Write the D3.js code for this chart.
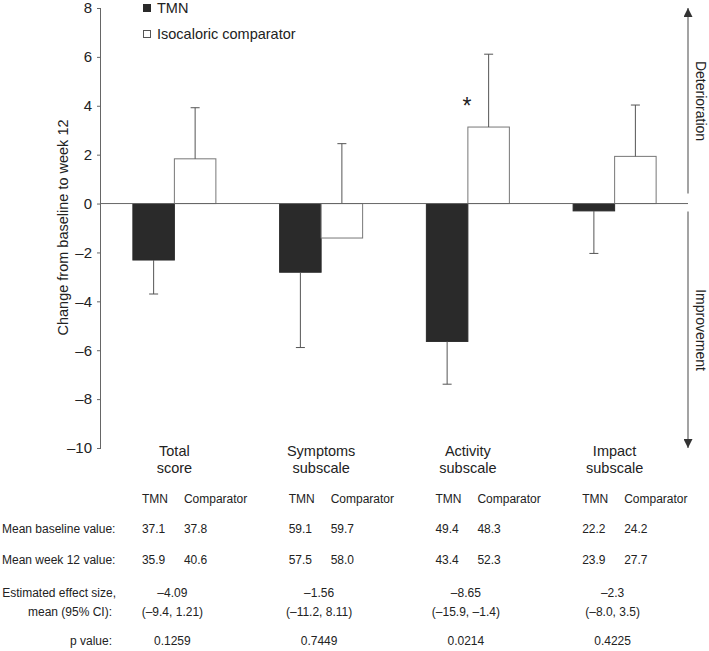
<!DOCTYPE html>
<html>
<head>
<meta charset="utf-8">
<script src="https://cdn.jsdelivr.net/npm/d3@7"></script>
<style>
  html, body { margin: 0; padding: 0; background: #fff; }
  svg { display: block; font-family: "Liberation Sans", Arial, Helvetica, sans-serif; }
</style>
</head>
<body>
<svg id="chart" width="709" height="651"></svg>
<script>
// ---- data ----
const categories = ["Total score", "Symptoms subscale", "Activity subscale", "Impact subscale"];
const catLine1 = ["Total", "Symptoms", "Activity", "Impact"];
const catLine2 = ["score", "subscale", "subscale", "subscale"];
const series = ["TMN", "Isocaloric comparator"];
const tmnValues = [-2.31, -2.81, -5.64, -0.30];
const tmnErrorEnd = [-3.70, -5.89, -7.39, -2.04];
const compValues = [1.83, -1.41, 3.13, 1.93];
const compErrorEnd = [3.92, 2.45, 6.11, 4.03];
const yTicks = [8, 6, 4, 2, 0, -2, -4, -6, -8, -10];
const significant = [false, false, true, false];

const tableHeaders = ["TMN", "Comparator"];
const rowLabels = ["Mean baseline value:", "Mean week 12 value:"];
const baselineTMN = ["37.1", "59.1", "49.4", "22.2"];
const baselineComp = ["37.8", "59.7", "48.3", "24.2"];
const week12TMN = ["35.9", "57.5", "43.4", "23.9"];
const week12Comp = ["40.6", "58.0", "52.3", "27.7"];
const effectMean = ["\u20134.09", "\u20131.56", "\u20138.65", "\u20132.3"];
const effectCI = ["(\u20139.4, 1.21)", "(\u201311.2, 8.11)", "(\u201315.9, \u20131.4)", "(\u20138.0, 3.5)"];
const pValues = ["0.1259", "0.7449", "0.0214", "0.4225"];

// ---- layout ----
const svg = d3.select("#chart");
const axisX = 101, rightX = 688;
const textCol = "#222";
const lineCol = "#666";

const y = d3.scaleLinear().domain([-10, 8]).range([448, 8]);
const x0 = d3.scaleBand().domain(categories).range([axisX, rightX]).padding(0);
const center = c => x0(c) + x0.bandwidth() / 2;
const x1 = d3.scaleBand().domain(series).range([-41.5, 41.5]).padding(0);

// y axis
const yAxis = d3.axisLeft(y).tickValues(yTicks).tickSize(4).tickPadding(5)
  .tickFormat(d => d < 0 ? "\u2013" + Math.abs(d) : String(d));
const gy = svg.append("g").attr("transform", `translate(${axisX},0)`).call(yAxis);
gy.select(".domain").attr("stroke", lineCol).attr("d", `M-0.5,${y(8)}V${y(-10)}`);
gy.selectAll(".tick line").attr("stroke", lineCol);
gy.selectAll(".tick text").attr("fill", textCol).style("font-size", "15px").style("font-family", "'Liberation Sans', Arial, sans-serif");

// y axis title
svg.append("text")
  .attr("transform", `translate(68,${(118 + 337) / 2}) rotate(-90)`)
  .attr("text-anchor", "middle").attr("fill", textCol).style("font-size", "14.5px")
  .text("Change from baseline to week 12");

// data rows
const rows = categories.map((c, i) => ({
  cat: c,
  bars: [
    { s: series[0], v: tmnValues[i], e: tmnErrorEnd[i] },
    { s: series[1], v: compValues[i], e: compErrorEnd[i] }
  ]
}));

const groups = svg.append("g").selectAll("g").data(rows).join("g")
  .attr("transform", d => `translate(${center(d.cat)},0)`);

groups.selectAll("rect").data(d => d.bars).join("rect")
  .attr("x", d => x1(d.s))
  .attr("width", x1.bandwidth())
  .attr("y", d => y(Math.max(0, d.v)))
  .attr("height", d => Math.abs(y(d.v) - y(0)))
  .attr("fill", d => d.s === series[0] ? "#2a2a2a" : "#fff")
  .attr("stroke", d => d.s === series[0] ? "#2a2a2a" : "#777")
  .attr("stroke-width", 1);

// error bars
const errStart = d => (Math.sign(d.e - d.v) === Math.sign(d.v) || d.v === 0) ? d.v : 0;
groups.selectAll("path.err").data(d => d.bars).join("path").attr("class", "err")
  .attr("fill", "none").attr("stroke", "#555").attr("stroke-width", 1)
  .attr("d", d => {
    const cx = x1(d.s) + x1.bandwidth() / 2;
    return `M${cx},${y(errStart(d))}V${y(d.e)}M${cx - 4.5},${y(d.e)}H${cx + 4.5}`;
  });

// zero line
svg.append("line").attr("x1", axisX).attr("x2", rightX).attr("y1", y(0)).attr("y2", y(0))
  .attr("stroke", lineCol).attr("stroke-width", 1);

// significance star
svg.selectAll("text.star").data(rows.filter((d, i) => significant[i])).join("text")
  .attr("class", "star").attr("x", d => center(d.cat) - 1).attr("y", 114)
  .attr("text-anchor", "middle").attr("fill", textCol).style("font-size", "23px")
  .text("*");

// legend
const legend = svg.append("g");
const legY = [13, 39];
series.forEach((s, i) => {
  legend.append("rect").attr("x", 143.5).attr("y", legY[i] - 8.5).attr("width", 7).attr("height", 7)
    .attr("fill", i === 0 ? "#2a2a2a" : "#fff").attr("stroke", i === 0 ? "#2a2a2a" : "#555");
  legend.append("text").attr("x", 157).attr("y", legY[i]).attr("fill", textCol)
    .style("font-size", "14.5px").text(s);
});

// direction arrows
const ax = rightX;
svg.append("defs").append("marker").attr("id", "ah").attr("viewBox", "0 0 10 10")
  .attr("refX", 10).attr("refY", 5).attr("markerWidth", 9).attr("markerHeight", 9)
  .attr("markerUnits", "userSpaceOnUse").attr("orient", "auto")
  .append("path").attr("d", "M0,0L10,5L0,10Z").attr("fill", "#333");
svg.append("line").attr("x1", ax).attr("x2", ax).attr("y1", y(0) - 10).attr("y2", y(8))
  .attr("stroke", lineCol).attr("stroke-width", 1.2).attr("marker-end", "url(#ah)");
svg.append("line").attr("x1", ax).attr("x2", ax).attr("y1", y(0) + 8).attr("y2", y(-10))
  .attr("stroke", lineCol).attr("stroke-width", 1.2).attr("marker-end", "url(#ah)");
svg.append("text").attr("transform", `translate(696,101) rotate(90)`).attr("text-anchor", "middle")
  .attr("fill", textCol).style("font-size", "14px").text("Deterioration");
svg.append("text").attr("transform", `translate(696,330) rotate(90)`).attr("text-anchor", "middle")
  .attr("fill", textCol).style("font-size", "14px").text("Improvement");

// category labels
const catG = svg.append("g").attr("fill", textCol).style("font-size", "14.5px").attr("text-anchor", "middle");
categories.forEach((c, i) => {
  catG.append("text").attr("x", center(c)).attr("y", 456).text(catLine1[i]);
  catG.append("text").attr("x", center(c)).attr("y", 473).text(catLine2[i]);
});

// table
const tbl = svg.append("g").attr("fill", textCol).style("font-size", "12px");
const colTMN = c => center(c) - 32.5;
const colComp = c => center(c) + 9.5;
categories.forEach((c, i) => {
  tbl.append("text").attr("x", colTMN(c)).attr("y", 503).text(tableHeaders[0]);
  tbl.append("text").attr("x", colComp(c)).attr("y", 503).text(tableHeaders[1]);
  tbl.append("text").attr("x", colTMN(c)).attr("y", 533).text(baselineTMN[i]);
  tbl.append("text").attr("x", colComp(c)).attr("y", 533).text(baselineComp[i]);
  tbl.append("text").attr("x", colTMN(c)).attr("y", 564).text(week12TMN[i]);
  tbl.append("text").attr("x", colComp(c)).attr("y", 564).text(week12Comp[i]);
  tbl.append("text").attr("x", center(c) - 2).attr("y", 597).attr("text-anchor", "middle").text(effectMean[i]);
  tbl.append("text").attr("x", center(c) - 2).attr("y", 616).attr("text-anchor", "middle").text(effectCI[i]);
  tbl.append("text").attr("x", center(c) - 2).attr("y", 645).attr("text-anchor", "middle").text(pValues[i]);
});
tbl.append("text").attr("x", 2).attr("y", 533).text(rowLabels[0]);
tbl.append("text").attr("x", 2).attr("y", 564).text(rowLabels[1]);
tbl.append("text").attr("x", 116).attr("y", 597).attr("text-anchor", "end").text("Estimated effect size,");
tbl.append("text").attr("x", 112).attr("y", 616).attr("text-anchor", "end").text("mean (95% CI):");
tbl.append("text").attr("x", 112).attr("y", 645).attr("text-anchor", "end").text("p value:");
</script>
</body>
</html>
